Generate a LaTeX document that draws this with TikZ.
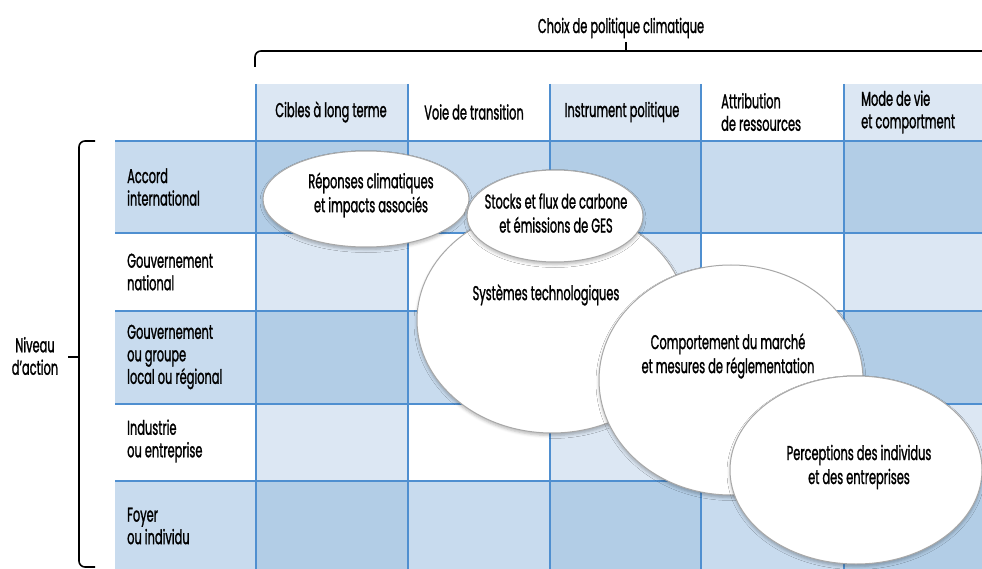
\documentclass[tikz,border=0pt]{standalone}
\usepackage{fontspec}
\setmainfont{Poppins}[FakeStretch=0.57, FakeBold=1.2]
\usepackage{tikz}
\usetikzlibrary{shapes.geometric,shadows.blur}
\definecolor{cellpale}{HTML}{DCE7F3}
\definecolor{celllight}{HTML}{C8DBEE}
\definecolor{cellmid}{HTML}{B2CDE6}
\definecolor{gridblue}{HTML}{4F8FD0}
\definecolor{rimgray}{HTML}{A8A8A8}
\tikzset{
  lbl/.style={font=\fontsize{20}{22.5}\selectfont, inner sep=0pt},
  rowlbl/.style={lbl, anchor=west, align=left},
  hd/.style={lbl, align=left},
  bubble/.style={ellipse, draw=rimgray, line width=1pt, fill=white,
    blur shadow={shadow xshift=0pt, shadow yshift=-2.5pt, shadow blur radius=3pt, shadow opacity=28}},
  bubbletext/.style={lbl, align=center, font=\fontsize{20}{24}\selectfont},
  brace/.style={black, line width=1.6pt, rounded corners=6pt}
}

\begin{document}
\begin{tikzpicture}[x=1pt,y=-1pt]
\useasboundingbox (0,0) rectangle (982,569);
% column strips, then the shaded rows and their crossings
\fill[cellpale] (256,84) rectangle (408,569);
\fill[cellpale] (550,84) rectangle (701,569);
\fill[cellpale] (844,84) rectangle (982,569);
\fill[celllight] (115,141) rectangle (982,233);
\fill[celllight] (115,311) rectangle (982,404);
\fill[celllight] (115,481) rectangle (982,569);
\fill[cellmid] (256,141) rectangle (408,233);
\fill[cellmid] (550,141) rectangle (701,233);
\fill[cellmid] (844,141) rectangle (982,233);
\fill[cellmid] (256,311) rectangle (408,404);
\fill[cellmid] (550,311) rectangle (701,404);
\fill[cellmid] (844,311) rectangle (982,404);
\fill[cellmid] (256,481) rectangle (408,569);
\fill[cellmid] (550,481) rectangle (701,569);
\fill[cellmid] (844,481) rectangle (982,569);
% grid
\draw[gridblue, line width=1.6pt] (115,141) -- (982,141);
\draw[gridblue, line width=1.6pt] (115,233) -- (982,233);
\draw[gridblue, line width=1.6pt] (115,311) -- (982,311);
\draw[gridblue, line width=1.6pt] (115,404) -- (982,404);
\draw[gridblue, line width=1.6pt] (115,481) -- (982,481);
\draw[gridblue, line width=1.6pt] (256,84) -- (256,569);
\draw[gridblue, line width=1.6pt] (408,84) -- (408,569);
\draw[gridblue, line width=1.6pt] (550,84) -- (550,569);
\draw[gridblue, line width=1.6pt] (701,84) -- (701,569);
\draw[gridblue, line width=1.6pt] (844,84) -- (844,569);
% brackets
\draw[brace] (255,67) -- (255,51) -- (990,51);
\draw[black, line width=1.6pt] (626,42) -- (626,51);
\draw[brace] (95,141) -- (79,141) -- (79,567) -- (95,567);
\draw[black, line width=1.6pt] (68,357) -- (79,357);
\node[lbl] (choix) at (621,28) {Choix de politique climatique};
\node[lbl, align=center] (niveau) at (35,356) {Niveau\\d’action};
% column heads
\node[hd] (cibles) at (331,112) {Cibles à long terme};
\node[hd] (voie) at (474,112) {Voie de transition};
\node[hd] (instr) at (622,112) {Instrument politique};
\node[hd, anchor=west] (attrib) at (721,112) {Attribution\\de ressources};
\node[hd, anchor=west] (mode) at (861,112) {Mode de vie\\et comportment};
% row heads
\node[rowlbl] (accord) at (127,187) {Accord\\international};
\node[rowlbl] (national) at (127,272) {Gouvernement\\national};
\node[rowlbl] (local) at (127,357) {Gouvernement\\ou groupe\\local ou régional};
\node[rowlbl] (industrie) at (127,441) {Industrie\\ou entreprise};
\node[rowlbl] (foyer) at (127,526) {Foyer\\ou individu};
% bubbles
\node[bubble, minimum width=270pt, minimum height=226pt] (sys) at (552,320) {};
\node[bubble, minimum width=206pt, minimum height=96pt] (rep) at (366,199) {};
\node[bubble, minimum width=176pt, minimum height=92pt] (stock) at (555,216) {};
\node[bubble, minimum width=264pt, minimum height=230pt] (comp) at (731,380) {};
\node[bubble, minimum width=252pt, minimum height=188pt] (perc) at (856,470) {};
\node[bubbletext] (sys-t) at (546,295) {Systèmes technologiques};
\node[bubbletext] (rep-t) at (371,195) {Réponses climatiques\\et impacts associés};
\node[bubbletext] (stock-t) at (556,213) {Stocks et flux de carbone\\et émissions de GES};
\node[bubbletext] (comp-t) at (728,356) {Comportement du marché\\et mesures de réglementation};
\node[bubbletext] (perc-t) at (859,467) {Perceptions des individus\\et des entreprises};
\end{tikzpicture}
\end{document}
